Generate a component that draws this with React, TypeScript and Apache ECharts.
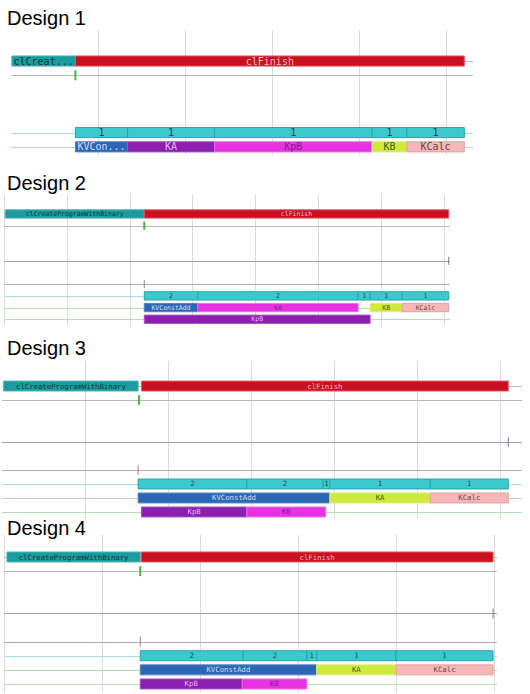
import { useEffect, useRef } from "react";
import * as echarts from "echarts";

// ---------- data ----------
const designTitles = ["Design 1", "Design 2", "Design 3", "Design 4"];
const timeMax = [53.1, 70.9, 62.65, 50.3];
const timeTick = 10;
const laneMin = [-2.17, -1.62, -1.79, -1.56];
const laneMax = [6.57, 9.49, 9.43, 9.57];

type Bar = [string, number, number, number, string]; // label, lane, start, end, kind
type Lane = [number, string]; // lane, kind
type Mark = [number, number, string]; // lane, time, kind

const d1Lanes: Lane[] = [[0, "host"], [1, "host"], [5, "count"], [6, "kernel"]];
const d1Bars: Bar[] = [
  ["clCreat...", 0, 0.1, 7.4, "create"],
  ["clFinish", 0, 7.4, 52.1, "finish"],
  ["1", 5, 7.4, 13.4, "count"],
  ["1", 5, 13.4, 23.4, "count"],
  ["1", 5, 23.4, 41.5, "count"],
  ["1", 5, 41.5, 45.5, "count"],
  ["1", 5, 45.5, 52.1, "count"],
  ["KVCon...", 6, 7.4, 13.4, "blue"],
  ["KA", 6, 13.4, 23.4, "purple"],
  ["KpB", 6, 23.4, 41.5, "magenta"],
  ["KB", 6, 41.5, 45.5, "lime"],
  ["KCalc", 6, 45.5, 52.1, "pink"],
];
const d1Marks: Mark[] = [[1, 7.4, "start"]];

const d2Lanes: Lane[] = [[0, "host"], [1, "host"], [4, "queue"], [6, "device"], [7, "count"], [8, "kernel"], [9, "kernel"]];
const d2Bars: Bar[] = [
  ["clCreateProgramWithBinary", 0, 0.2, 22.3, "create"],
  ["clFinish", 0, 22.3, 70.7, "finish"],
  ["2", 7, 22.3, 30.8, "count"],
  ["2", 7, 30.8, 56.3, "count"],
  ["1", 7, 56.3, 58.2, "count"],
  ["1", 7, 58.2, 63.3, "count"],
  ["1", 7, 63.3, 70.7, "count"],
  ["KVConstAdd", 8, 22.3, 30.8, "blue"],
  ["KA", 8, 30.8, 56.3, "magenta"],
  ["KB", 8, 58.2, 63.3, "lime"],
  ["KCalc", 8, 63.3, 70.7, "pink"],
  ["KpB", 9, 22.3, 58.2, "purple"],
];
const d2Marks: Mark[] = [[1, 22.3, "start"], [4, 70.7, "queue"], [6, 22.3, "device"]];

const d3Lanes: Lane[] = [[0, "host"], [1, "host"], [4, "queue"], [6, "device"], [7, "count"], [8, "kernel"], [9, "kernel"]];
const d3Bars: Bar[] = [
  ["clCreateProgramWithBinary", 0, 0.2, 16.4, "create"],
  ["clFinish", 0, 16.8, 61.0, "finish"],
  ["2", 7, 16.4, 29.5, "count"],
  ["2", 7, 29.5, 38.7, "count"],
  ["1", 7, 38.7, 39.5, "count"],
  ["1", 7, 39.5, 51.6, "count"],
  ["1", 7, 51.6, 61.0, "count"],
  ["KVConstAdd", 8, 16.4, 39.5, "blue"],
  ["KA", 8, 39.5, 51.6, "lime"],
  ["KCalc", 8, 51.6, 61.0, "pink"],
  ["KpB", 9, 16.8, 29.5, "purple"],
  ["KB", 9, 29.5, 39.0, "magenta"],
];
const d3Marks: Mark[] = [[1, 16.5, "start"], [4, 61.0, "queue"], [6, 16.4, "device"]];

const d4Lanes: Lane[] = [[0, "host"], [1, "host"], [4, "queue"], [6, "device"], [7, "count"], [8, "kernel"], [9, "kernel"]];
const d4Bars: Bar[] = [
  ["clCreateProgramWithBinary", 0, 0.3, 13.9, "create"],
  ["clFinish", 0, 14.0, 49.9, "finish"],
  ["2", 7, 13.9, 24.4, "count"],
  ["2", 7, 24.4, 30.9, "count"],
  ["1", 7, 30.9, 31.9, "count"],
  ["1", 7, 31.9, 40.0, "count"],
  ["1", 7, 40.0, 49.9, "count"],
  ["KVConstAdd", 8, 13.9, 31.9, "blue"],
  ["KA", 8, 31.9, 40.0, "lime"],
  ["KCalc", 8, 40.0, 49.9, "pink"],
  ["KpB", 9, 13.9, 24.3, "purple"],
  ["KB", 9, 24.3, 30.9, "magenta"],
];
const d4Marks: Mark[] = [[1, 13.9, "start"], [4, 49.9, "queue"], [6, 13.9, "device"]];

const designLanes = [d1Lanes, d2Lanes, d3Lanes, d4Lanes];
const designBars = [d1Bars, d2Bars, d3Bars, d4Bars];
const designMarks = [d1Marks, d2Marks, d3Marks, d4Marks];

// ---------- layout & styles ----------
const gridBoxes = [
  { left: 11, top: 30, width: 462, height: 125 },
  { left: 4, top: 195, width: 446, height: 130 },
  { left: 2, top: 361, width: 520, height: 157 },
  { left: 4, top: 535, width: 493, height: 157 },
];
const titleY = [17.7, 183, 348, 528];
const labelSize = [10, 6.5, 7.3, 7.3];
const showFirstLine = [false, true, false, true];

const barStyle: Record<string, { fill: string; stroke: string; text: string }> = {
  create: { fill: "#1c9c9e", stroke: "#4fb4b4", text: "#0c3a3c" },
  finish: { fill: "#c8101e", stroke: "#dc5c68", text: "#f4bcc4" },
  count: { fill: "#3cc9cd", stroke: "#27a5ab", text: "#1b4c4e" },
  blue: { fill: "#2e66b6", stroke: "#5484c4", text: "#d0def4" },
  purple: { fill: "#8c1fb0", stroke: "#a452c2", text: "#e6b8f0" },
  magenta: { fill: "#e632e0", stroke: "#ee6cea", text: "#8a1c94" },
  lime: { fill: "#cee83c", stroke: "#dcee7e", text: "#4c5c10" },
  pink: { fill: "#f5b7b7", stroke: "#e4a2a2", text: "#6a4646" },
};
const laneColor: Record<string, string> = {
  host: "#bdb6b6",
  queue: "#a39bb3",
  device: "#c9a5ad",
  count: "#ace0e0",
  kernel: "#b6dcb6",
};
const markStyle: Record<string, { color: string; width: number }> = {
  start: { color: "#4caf50", width: 2 },
  queue: { color: "#7e7690", width: 1 },
  device: { color: "#a0808a", width: 1 },
};

export default function App() {
  const ref = useRef<HTMLDivElement>(null);

  useEffect(() => {
    document.body.style.margin = "0";
    if (!ref.current) return;
    const chart = echarts.init(ref.current, null, { renderer: "svg" });

    const series: any[] = [];
    for (let i = 0; i < 4; i++) {
      const lanes = designLanes[i];
      const bars = designBars[i];
      const marks = designMarks[i];
      const fs = labelSize[i];

      series.push({
        type: "custom",
        xAxisIndex: i,
        yAxisIndex: i,
        z: 1,
        silent: true,
        data: lanes.map((l) => [0, l[0]]),
        encode: { x: 0, y: 1 },
        renderItem: (params: any, api: any) => {
          const kind = lanes[params.dataIndex][1];
          const y = Math.round(api.coord([0, api.value(1)])[1]) + 0.5;
          const cs = params.coordSys;
          return {
            type: "line",
            shape: { x1: cs.x, y1: y, x2: cs.x + cs.width, y2: y },
            style: { stroke: laneColor[kind], lineWidth: 1 },
          };
        },
      });

      series.push({
        type: "custom",
        xAxisIndex: i,
        yAxisIndex: i,
        z: 2,
        silent: true,
        data: bars.map((b) => [b[2], b[3], b[1]]),
        encode: { x: [0, 1], y: 2 },
        renderItem: (params: any, api: any) => {
          const b = bars[params.dataIndex];
          const st = barStyle[b[4]];
          const s = api.coord([api.value(0), api.value(2)]);
          const e = api.coord([api.value(1), api.value(2)]);
          const h = Math.abs(api.size([0, 1])[1]) * 0.71;
          return {
            type: "group",
            children: [
              {
                type: "rect",
                shape: { x: s[0], y: s[1] - h / 2, width: e[0] - s[0], height: h },
                style: { fill: st.fill, stroke: st.stroke, lineWidth: 1 },
              },
              {
                type: "text",
                x: (s[0] + e[0]) / 2,
                y: s[1],
                style: {
                  text: b[0],
                  fill: st.text,
                  font: `${fs}px "DejaVu Sans Mono"`,
                  align: "center",
                  verticalAlign: "middle",
                },
              },
            ],
          };
        },
      });

      series.push({
        type: "custom",
        xAxisIndex: i,
        yAxisIndex: i,
        z: 3,
        silent: true,
        data: marks.map((m) => [m[1], m[0]]),
        encode: { x: 0, y: 1 },
        renderItem: (params: any, api: any) => {
          const m = marks[params.dataIndex];
          const ms = markStyle[m[2]];
          const p = api.coord([api.value(0), api.value(1)]);
          const h = Math.abs(api.size([0, 1])[1]) * 0.7;
          return {
            type: "line",
            shape: { x1: p[0], y1: p[1] - h / 2, x2: p[0], y2: p[1] + h / 2 },
            style: { stroke: ms.color, lineWidth: ms.width },
          };
        },
      });
    }

    chart.setOption({
      animation: false,
      backgroundColor: "#ffffff",
      grid: gridBoxes.map((g) => ({ ...g, containLabel: false })),
      xAxis: gridBoxes.map((_, i) => ({
        type: "value",
        gridIndex: i,
        min: 0,
        max: timeMax[i],
        interval: timeTick,
        axisLine: { show: false },
        axisTick: { show: false },
        axisLabel: { show: false },
        splitLine: {
          show: true,
          showMinLine: showFirstLine[i],
          showMaxLine: false,
          lineStyle: { color: "#d9d9d9", width: 1 },
        },
      })),
      yAxis: gridBoxes.map((_, i) => ({
        type: "value",
        gridIndex: i,
        min: laneMin[i],
        max: laneMax[i],
        inverse: true,
        show: false,
      })),
      graphic: designTitles.map((t, i) => ({
        type: "text",
        x: 7,
        y: titleY[i],
        style: {
          text: t,
          fill: "#000000",
          font: '20px "Liberation Sans"',
          verticalAlign: "middle",
        },
      })),
      series,
    });

    return () => chart.dispose();
  }, []);

  return (
    <div
      ref={ref}
      style={{ position: "absolute", left: 0, top: 0, width: 530, height: 694 }}
    />
  );
}
